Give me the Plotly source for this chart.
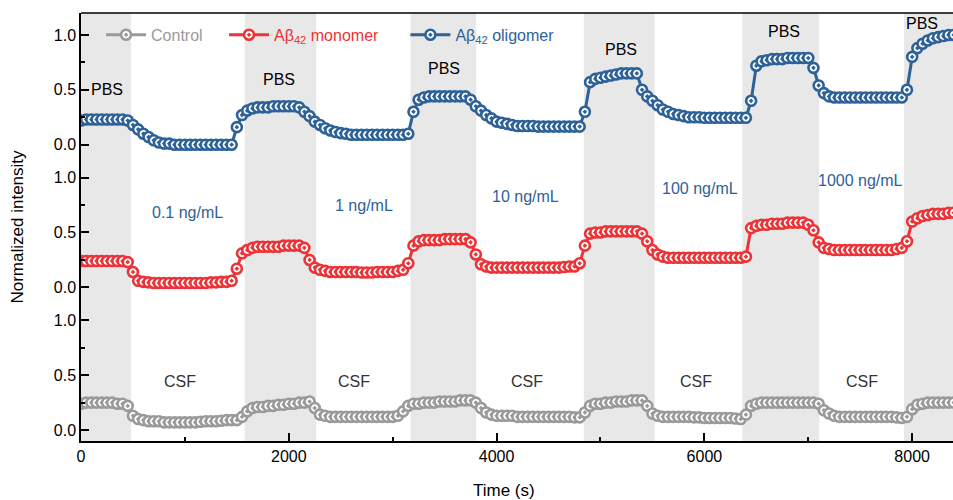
import plotly.graph_objects as go
from plotly.subplots import make_subplots

# ---------------- data ----------------
time_s = [
    0, 50, 100, 150, 200, 250, 300, 350, 400, 450,
    500, 550, 600, 650, 700, 750, 800, 850, 900, 950,
    1000, 1050, 1100, 1150, 1200, 1250, 1300, 1350, 1400, 1450,
    1500, 1550, 1600, 1650, 1700, 1750, 1800, 1850, 1900, 1950,
    2000, 2050, 2100, 2150, 2200, 2250, 2300, 2350, 2400, 2450,
    2500, 2550, 2600, 2650, 2700, 2750, 2800, 2850, 2900, 2950,
    3000, 3050, 3100, 3150, 3200, 3250, 3300, 3350, 3400, 3450,
    3500, 3550, 3600, 3650, 3700, 3750, 3800, 3850, 3900, 3950,
    4000, 4050, 4100, 4150, 4200, 4250, 4300, 4350, 4400, 4450,
    4500, 4550, 4600, 4650, 4700, 4750, 4800, 4850, 4900, 4950,
    5000, 5050, 5100, 5150, 5200, 5250, 5300, 5350, 5400, 5450,
    5500, 5550, 5600, 5650, 5700, 5750, 5800, 5850, 5900, 5950,
    6000, 6050, 6100, 6150, 6200, 6250, 6300, 6350, 6400, 6450,
    6500, 6550, 6600, 6650, 6700, 6750, 6800, 6850, 6900, 6950,
    7000, 7050, 7100, 7150, 7200, 7250, 7300, 7350, 7400, 7450,
    7500, 7550, 7600, 7650, 7700, 7750, 7800, 7850, 7900, 7950,
    8000, 8050, 8100, 8150, 8200, 8250, 8300, 8350, 8400,
]

oligomer = [
    0.22, 0.23, 0.23, 0.23, 0.23, 0.23, 0.23, 0.23, 0.23, 0.22,
    0.18, 0.14, 0.10, 0.07, 0.04, 0.02, 0.01, 0.01, 0.00, 0.00,
    0.00, 0.00, 0.00, 0.00, 0.00, 0.00, 0.00, 0.00, 0.00, 0.00,
    0.16, 0.27, 0.31, 0.33, 0.34, 0.34, 0.34, 0.35, 0.35, 0.35,
    0.35, 0.35, 0.34, 0.30, 0.26, 0.21, 0.18, 0.15, 0.13, 0.115,
    0.105, 0.10, 0.09, 0.09, 0.09, 0.09, 0.09, 0.09, 0.09, 0.09,
    0.09, 0.09, 0.09, 0.10, 0.30, 0.41, 0.43, 0.44, 0.44, 0.44,
    0.44, 0.44, 0.44, 0.44, 0.44, 0.41, 0.35, 0.31, 0.27, 0.24,
    0.21, 0.20, 0.19, 0.18, 0.17, 0.17, 0.17, 0.17, 0.165, 0.165,
    0.165, 0.165, 0.165, 0.165, 0.165, 0.165, 0.165, 0.30, 0.57, 0.60,
    0.61, 0.62, 0.63, 0.64, 0.65, 0.65, 0.65, 0.65, 0.50, 0.44,
    0.40, 0.36, 0.32, 0.30, 0.28, 0.27, 0.26, 0.25, 0.25, 0.25,
    0.245, 0.245, 0.245, 0.245, 0.245, 0.245, 0.245, 0.245, 0.245, 0.40,
    0.72, 0.76, 0.77, 0.78, 0.78, 0.78, 0.79, 0.79, 0.79, 0.79,
    0.79, 0.70, 0.54, 0.47, 0.44, 0.43, 0.43, 0.43, 0.43, 0.43,
    0.43, 0.43, 0.43, 0.43, 0.43, 0.43, 0.43, 0.43, 0.43, 0.50,
    0.80, 0.88, 0.92, 0.95, 0.97, 0.98, 0.99, 1.00, 1.00,
]

monomer = [
    0.24, 0.24, 0.24, 0.24, 0.24, 0.24, 0.24, 0.24, 0.24, 0.23,
    0.14, 0.06, 0.05, 0.045, 0.04, 0.04, 0.04, 0.04, 0.04, 0.04,
    0.04, 0.04, 0.04, 0.04, 0.04, 0.045, 0.045, 0.05, 0.05, 0.06,
    0.17, 0.31, 0.34, 0.36, 0.37, 0.37, 0.37, 0.37, 0.37, 0.38,
    0.38, 0.38, 0.38, 0.36, 0.25, 0.18, 0.16, 0.15, 0.14, 0.14,
    0.14, 0.14, 0.14, 0.14, 0.135, 0.135, 0.135, 0.14, 0.14, 0.14,
    0.14, 0.15, 0.16, 0.22, 0.38, 0.42, 0.43, 0.43, 0.43, 0.43,
    0.44, 0.44, 0.44, 0.44, 0.44, 0.41, 0.30, 0.21, 0.19, 0.18,
    0.18, 0.18, 0.18, 0.18, 0.18, 0.18, 0.18, 0.18, 0.18, 0.18,
    0.18, 0.18, 0.18, 0.185, 0.19, 0.19, 0.22, 0.38, 0.49, 0.50,
    0.50, 0.51, 0.51, 0.51, 0.51, 0.51, 0.51, 0.51, 0.49, 0.42,
    0.34, 0.30, 0.28, 0.27, 0.27, 0.27, 0.27, 0.27, 0.27, 0.27,
    0.27, 0.27, 0.27, 0.27, 0.27, 0.27, 0.27, 0.27, 0.28, 0.54,
    0.56, 0.57, 0.57, 0.58, 0.58, 0.58, 0.59, 0.59, 0.59, 0.59,
    0.57, 0.52, 0.41, 0.36, 0.35, 0.34, 0.34, 0.34, 0.34, 0.34,
    0.34, 0.34, 0.34, 0.34, 0.34, 0.34, 0.34, 0.35, 0.36, 0.42,
    0.60, 0.63, 0.65, 0.66, 0.67, 0.67, 0.67, 0.68, 0.68,
]

control = [
    0.24, 0.25, 0.25, 0.25, 0.25, 0.25, 0.25, 0.24, 0.24, 0.22,
    0.13, 0.10, 0.09, 0.08, 0.08, 0.08, 0.07, 0.07, 0.07, 0.07,
    0.07, 0.07, 0.07, 0.075, 0.08, 0.08, 0.08, 0.085, 0.09, 0.09,
    0.09, 0.12, 0.17, 0.20, 0.21, 0.21, 0.22, 0.22, 0.23, 0.23,
    0.24, 0.24, 0.25, 0.25, 0.26, 0.20, 0.14, 0.13, 0.12, 0.12,
    0.12, 0.12, 0.12, 0.12, 0.12, 0.12, 0.12, 0.12, 0.12, 0.12,
    0.12, 0.13, 0.17, 0.22, 0.24, 0.24, 0.25, 0.25, 0.25, 0.26,
    0.26, 0.26, 0.26, 0.27, 0.27, 0.27, 0.25, 0.20, 0.16, 0.14,
    0.13, 0.13, 0.13, 0.13, 0.12, 0.12, 0.12, 0.12, 0.12, 0.12,
    0.12, 0.12, 0.12, 0.12, 0.12, 0.115, 0.115, 0.16, 0.22, 0.24,
    0.24, 0.25, 0.25, 0.26, 0.26, 0.26, 0.27, 0.27, 0.27, 0.22,
    0.15, 0.13, 0.12, 0.12, 0.12, 0.12, 0.12, 0.12, 0.115, 0.115,
    0.11, 0.11, 0.11, 0.11, 0.11, 0.11, 0.105, 0.10, 0.14, 0.22,
    0.24, 0.25, 0.25, 0.25, 0.25, 0.25, 0.25, 0.25, 0.25, 0.25,
    0.25, 0.25, 0.24, 0.18, 0.15, 0.13, 0.12, 0.12, 0.12, 0.12,
    0.12, 0.12, 0.12, 0.12, 0.12, 0.12, 0.12, 0.115, 0.11, 0.12,
    0.19, 0.23, 0.24, 0.25, 0.25, 0.25, 0.25, 0.25, 0.25,
]

# PBS (grey) periods, seconds
pbs_start = [0, 1576, 3172, 4840, 6365, 7921]
pbs_end = [481, 2264, 3804, 5522, 7105, 9000]

pbs_label_x = [250, 1905, 3494, 5197, 6767, 8094]
pbs_label_y = [0.50, 0.59, 0.69, 0.87, 1.03, 1.10]

conc_labels = ["0.1 ng/mL", "1 ng/mL", "10 ng/mL", "100 ng/mL", "1000 ng/mL"]
conc_label_x = [1025, 2724, 4283, 5957, 7498]
conc_label_y = [0.68, 0.745, 0.83, 0.90, 0.97]

csf_label_x = [953, 2628, 4293, 5919, 7517]
csf_label_y = [0.44, 0.44, 0.44, 0.44, 0.44]

x_ticks = [0, 2000, 4000, 6000, 8000]
y_ticks = [0.0, 0.5, 1.0]

# ---------------- style ----------------
C_GREY = "#9a9a9a"
C_RED = "#ec3337"
C_BLUE = "#2d6299"
FONT = "Arial, Liberation Sans, sans-serif"

fig = make_subplots(rows=3, cols=1, shared_xaxes=True, vertical_spacing=0)

def add_series(y, color, name, row, legend):
    fig.add_trace(
        go.Scatter(
            x=time_s, y=y, mode="lines+markers", name=name, legend=legend,
            line=dict(color=color, width=3),
            marker=dict(symbol="circle-dot", size=10, color="white",
                        line=dict(color=color, width=2.6)),
        ),
        row=row, col=1,
    )

add_series(control, C_GREY, f"<span style='color:{C_GREY}'>Control</span>", 3, "legend")
add_series(monomer, C_RED, f"<span style='color:{C_RED}'>Aβ<sub>42</sub> monomer</span>", 2, "legend2")
add_series(oligomer, C_BLUE, f"<span style='color:{C_BLUE}'>Aβ<sub>42</sub> oligomer</span>", 1, "legend3")

shapes = []
for s, e in zip(pbs_start, pbs_end):
    shapes.append(dict(type="rect", xref="x3", yref="paper", x0=s, x1=e, y0=0, y1=1,
                       fillcolor="#e8e8e8", line=dict(width=0), layer="below"))
shapes.append(dict(type="line", xref="paper", yref="paper", x0=0, x1=1, y0=1, y1=1,
                   line=dict(color="black", width=1.5)))

annotations = []
for x, y in zip(pbs_label_x, pbs_label_y):
    annotations.append(dict(x=x, y=y, xref="x", yref="y", text="PBS", showarrow=False,
                            font=dict(size=16, color="black", family=FONT)))
for t, x, y in zip(conc_labels, conc_label_x, conc_label_y):
    annotations.append(dict(x=x, y=y, xref="x2", yref="y2", text=t, showarrow=False,
                            font=dict(size=16, color=C_BLUE, family=FONT)))
for x, y in zip(csf_label_x, csf_label_y):
    annotations.append(dict(x=x, y=y, xref="x3", yref="y3", text="CSF", showarrow=False,
                            font=dict(size=16, color="#333333", family=FONT)))
# x-axis title
annotations.append(dict(x=0.485, y=0, xref="paper", yref="paper", yanchor="middle",
                        yshift=-49, text="Time (s)", showarrow=False,
                        font=dict(size=17, color="black", family=FONT)))

leg_common = dict(orientation="h", xanchor="left", y=0.949, yanchor="middle",
                  bgcolor="rgba(0,0,0,0)", font=dict(size=16), itemwidth=40)

fig.update_layout(
    width=953, height=500,
    margin=dict(l=81, r=0, t=13, b=59, autoexpand=False),
    paper_bgcolor="white", plot_bgcolor="white",
    font=dict(family=FONT, size=16, color="black"),
    shapes=shapes, annotations=annotations,
    showlegend=True,
    legend=dict(x=0.023, **leg_common),
    legend2=dict(x=0.164, **leg_common),
    legend3=dict(x=0.372, **leg_common),
)

for r in (1, 2, 3):
    fig.update_yaxes(range=[-0.1, 1.2], tickvals=y_ticks, ticktext=["0.0", "0.5", "1.0"],
                     ticks="inside", ticklen=8, tickwidth=1.5, tickcolor="black",
                     minor=dict(dtick=0.25, tick0=0, ticks="inside", ticklen=4,
                                tickwidth=1.5, tickcolor="black"),
                     showline=True, linecolor="black", linewidth=1.5,
                     showgrid=False, zeroline=False, tickfont=dict(size=16),
                     automargin=False, row=r, col=1)
    fig.update_xaxes(range=[0, 8393], showgrid=False, zeroline=False, automargin=False,
                     row=r, col=1)

fig.update_xaxes(showline=False, ticks="", showticklabels=False, row=1, col=1)
fig.update_xaxes(showline=False, ticks="", showticklabels=False, row=2, col=1)
fig.update_xaxes(showline=True, linecolor="black", linewidth=1.5,
                 tickvals=x_ticks, ticks="inside", ticklen=8, tickwidth=1.5, tickcolor="black",
                 minor=dict(dtick=1000, tick0=0, ticks="inside", ticklen=4,
                            tickwidth=1.5, tickcolor="black"),
                 tickfont=dict(size=16),
                 row=3, col=1)
fig.update_yaxes(title=dict(text="Normalized intensity", font=dict(size=17), standoff=26),
                 row=2, col=1)

fig.write_html(
    "out.html",
    config={"displayModeBar": False, "responsive": False},
    post_script="document.body.style.margin='0';document.body.style.overflow='hidden';",
)
